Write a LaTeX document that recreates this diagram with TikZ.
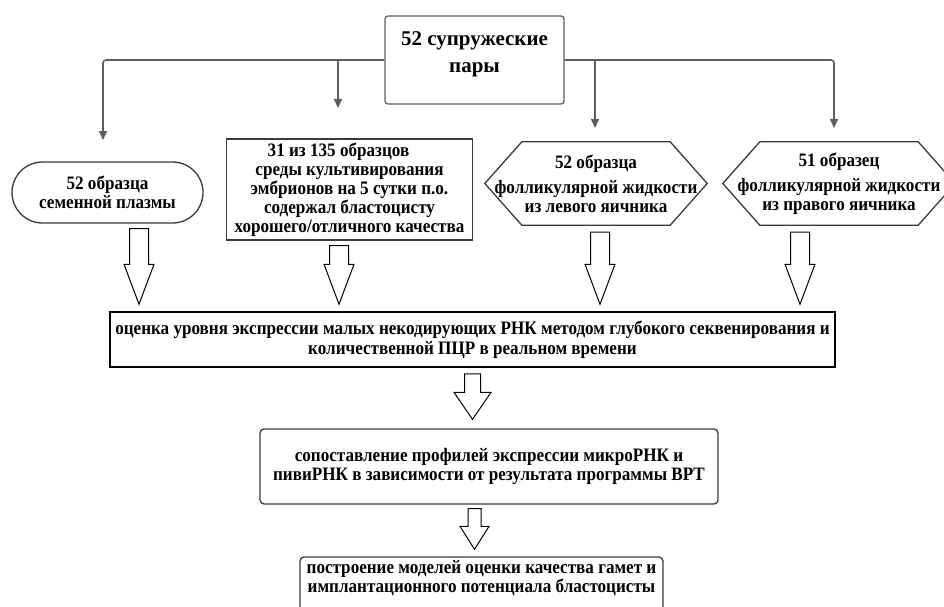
\documentclass[tikz,border=0pt]{standalone}
\usepackage{fontspec}
\setmainfont{Liberation Serif}[FakeStretch=0.9]
\newfontfamily\shirokij{Liberation Serif}
\usetikzlibrary{arrows.meta, shapes.misc, calc}
\definecolor{linija}{HTML}{5E5E5E}
\definecolor{kontur}{HTML}{3A3A3A}
\newcommand{\polaja}[5]{% verh, ostrie, dlina golovy, pol-stvola, pol-golovy
  \draw[polaja] let \p1=#1, \p2=#2 in
    (\x1-#4pt,\y1) -- (\x1+#4pt,\y1) -- (\x1+#4pt,\y2+#3pt) -- (\x1+#5pt,\y2+#3pt)
    -- (\x1,\y2) -- (\x1-#5pt,\y2+#3pt) -- (\x1-#4pt,\y2+#3pt) -- cycle;}

\begin{document}
\begin{tikzpicture}[x=1pt, y=-1pt, font=\fontsize{19}{19}\selectfont\bfseries,
    svjaz/.style={draw=linija, line width=1.6pt, rounded corners=3pt,
                  -{Triangle[length=9pt, width=8pt]}},
    polaja/.style={draw=black, line width=1pt, fill=white},
    blok/.style={draw=kontur, line width=1.3pt, align=center, inner sep=0pt},
    hexa/.style={align=center, inner sep=0pt, minimum height=83},
    ugol/.style={draw=kontur, line width=1.3pt}]
	\clip (0,0) rectangle (944,607);

	% verkhnij uroven
	\node[blok, draw=linija, rounded corners=3pt, minimum width=179, minimum height=88] (pary) at (474.5,60) {};
	\node[align=center, anchor=north, inner sep=0pt, font=\shirokij\fontsize{21}{27}\selectfont\bfseries] (pary-t)
		at ($(pary.north)+(0,16)$) {52 супружеские\\пары};

	% obrazcy
	\node[blok, rounded rectangle, minimum width=191, minimum height=61] (plazma) at (107.5,192.5)
		{52 образца\\семенной плазмы};
	\node[blok, minimum width=246, minimum height=101] (sreda) at (349.5,189.5)
		{31 из 135 образцов\hspace*{22pt}\\среды культивирования\\эмбрионов на 5 сутки п.о.\\содержал бластоцисту\\хорошего/отличного качества};
	\node[hexa, minimum width=222] (levyi) at (596,183.5)
		{52 образца\\[6pt]фолликулярной жидкости\\из левого яичника};
	\node[hexa, minimum width=232] (pravyi) at (839,183.5)
		{51 образец\\[6pt]фолликулярной жидкости\\из правого яичника};
	\foreach \uz in {levyi, pravyi}
		\draw[ugol] ($(\uz.north west)+(37,0)$) -- ($(\uz.north east)+(-37,0)$) -- (\uz.east)
			-- ($(\uz.south east)+(-37,0)$) -- ($(\uz.south west)+(37,0)$) -- (\uz.west) -- cycle;

	\coordinate (k1) at (103,140);
	\coordinate (k2) at (338,108);
	\coordinate (k3) at (595,128);
	\coordinate (k4) at (834,128);
	\draw[svjaz] (pary.west) -| (k1);
	\draw[svjaz] (pary.west -| k2) -- (k2);
	\draw[svjaz] (pary.east) -| (k4);
	\draw[svjaz] (pary.east -| k3) -- (k3);

	% analiz
	\node[blok, draw=black, line width=1.5pt, minimum width=725, minimum height=55] (ocenka) at (472.5,339.5)
		{оценка уровня экспрессии малых некодирующих РНК методом глубокого секвенирования и\\[1pt]количественной ПЦР в реальном времени};
	\node[blok, rounded corners=4pt, minimum width=458, minimum height=75] (sopost) at (489,466.5)
		{сопоставление профилей экспрессии микроРНК и\\пивиРНК в зависимости от результата программы ВРТ};
	\node[blok, rounded corners=4pt, minimum width=363, minimum height=70] (model) at (481.5,592) {};
	\node[align=center, anchor=north, inner sep=0pt] (model-t) at ($(model.north)+(0,4)$)
		{построение моделей оценки качества гамет и\\имплантационного потенциала бластоцисты};

	\foreach \uzel/\dx/\dy in {plazma/31.5/5, sreda/-10.5/5, levyi/4/7, pravyi/-39/7}
		\polaja{($(\uzel.south)+(\dx,\dy)$)}{($(ocenka.north)+(0,-7)$)}{40}{9.5}{15};
	\polaja{($(ocenka.south)+(0,6)$)}{($(sopost.north)+(0,-9)$)}{27}{8}{18.5}
	\polaja{($(sopost.south)+(-14.5,4)$)}{($(model.north)+(0,-7)$)}{23}{6.5}{14.5}
\end{tikzpicture}
\end{document}
